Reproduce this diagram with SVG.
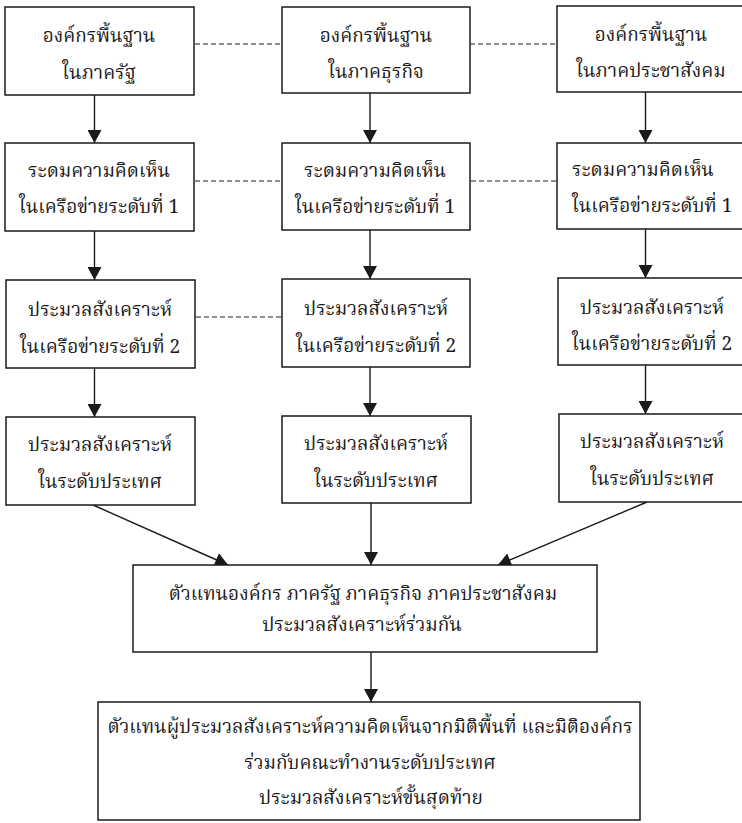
<svg xmlns="http://www.w3.org/2000/svg" width="742" height="823" viewBox="0 0 742 823">
<style>
.box{fill:#fff;stroke:#1a1a1a;stroke-width:1.5}
.t{font-family:"Noto Serif Thai","Noto Sans Thai","Liberation Serif",serif;font-size:19px;fill:#1a1a1a;text-anchor:middle}
.ts{text-anchor:start}
.ln{stroke:#1a1a1a;stroke-width:1.4;fill:none}
.ar{marker-end:url(#ah)}
.dash{stroke:#1a1a1a;stroke-width:1.2;stroke-dasharray:5 3;fill:none}
</style>
<defs>
<marker id="ah" markerUnits="userSpaceOnUse" markerWidth="14" markerHeight="14" viewBox="0 0 12 13" refX="12" refY="6.5" orient="auto">
<path d="M0,0 L12,6.5 L0,13 Z" fill="#1a1a1a"/>
</marker>
</defs>
<rect width="742" height="823" fill="#fff"/>
<g id="connectors">
<path class="dash" d="M195,44 H281"/>
<path class="dash" d="M470,44 H556"/>
<path class="dash" d="M195,181 H281"/>
<path class="dash" d="M471,181 H557"/>
<path class="dash" d="M196,317 H281"/>
<path class="ln ar" d="M94.5,95 V143"/>
<path class="ln ar" d="M94.5,231 V280"/>
<path class="ln ar" d="M94.5,368 V417"/>
<path class="ln ar" d="M370,93 V143"/>
<path class="ln ar" d="M370,230 V279"/>
<path class="ln ar" d="M370,367 V416"/>
<path class="ln ar" d="M371,503 V565"/>
<path class="ln ar" d="M645.5,92 V143"/>
<path class="ln ar" d="M645.5,229 V278"/>
<path class="ln ar" d="M645.5,365 V414"/>
<path class="ln ar" d="M93,505 L228,565"/>
<path class="ln ar" d="M647,502 L498,565"/>
<path class="ln ar" d="M371,652 V702"/>
</g>
<g id="n1"><rect class="box" x="5" y="7" width="189" height="88"/><text class="t" x="99" y="42">องค์กรพื้นฐาน</text><text class="t" x="99" y="79">ในภาครัฐ</text></g>
<g id="n2"><rect class="box" x="282" y="7" width="188" height="86"/><text class="t" x="376" y="42">องค์กรพื้นฐาน</text><text class="t" x="376" y="78">ในภาคธุรกิจ</text></g>
<g id="n3"><rect class="box" x="557" y="6" width="190" height="86"/><text class="t" x="651" y="41">องค์กรพื้นฐาน</text><text class="t" x="651" y="77">ในภาคประชาสังคม</text></g>
<g id="n4"><rect class="box" x="5" y="143" width="189" height="88"/><text class="t" x="99" y="177">ระดมความคิดเห็น</text><text class="t" x="99" y="213">ในเครือข่ายระดับที่ 1</text></g>
<g id="n5"><rect class="box" x="282" y="143" width="188" height="87"/><text class="t" x="375" y="177">ระดมความคิดเห็น</text><text class="t" x="375" y="213">ในเครือข่ายระดับที่ 1</text></g>
<g id="n6"><rect class="box" x="557" y="143" width="190" height="86"/><text class="t ts" x="572" y="176">ระดมความคิดเห็น</text><text class="t ts" x="572" y="212">ในเครือข่ายระดับที่ 1</text></g>
<g id="n7"><rect class="box" x="6" y="280" width="189" height="88"/><text class="t" x="100" y="316">ประมวลสังเคราะห์</text><text class="t" x="100" y="353">ในเครือข่ายระดับที่ 2</text></g>
<g id="n8"><rect class="box" x="282" y="279" width="188" height="88"/><text class="t" x="376" y="315">ประมวลสังเคราะห์</text><text class="t" x="376" y="352">ในเครือข่ายระดับที่ 2</text></g>
<g id="n9"><rect class="box" x="558" y="278" width="190" height="87"/><text class="t" x="652" y="314">ประมวลสังเคราะห์</text><text class="t" x="652" y="350">ในเครือข่ายระดับที่ 2</text></g>
<g id="n10"><rect class="box" x="6" y="417" width="189" height="88"/><text class="t" x="100" y="451">ประมวลสังเคราะห์</text><text class="t" x="100" y="488">ในระดับประเทศ</text></g>
<g id="n11"><rect class="box" x="282" y="416" width="189" height="87"/><text class="t" x="376" y="450">ประมวลสังเคราะห์</text><text class="t" x="376" y="487">ในระดับประเทศ</text></g>
<g id="n12"><rect class="box" x="559" y="414" width="190" height="88"/><text class="t" x="652" y="448">ประมวลสังเคราะห์</text><text class="t" x="652" y="485">ในระดับประเทศ</text></g>
<g id="n13"><rect class="box" x="133" y="565" width="464" height="87"/><text class="t" x="363" y="600">ตัวแทนองค์กร ภาครัฐ ภาคธุรกิจ ภาคประชาสังคม</text><text class="t" x="362" y="631">ประมวลสังเคราะห์ร่วมกัน</text></g>
<g id="n14"><rect class="box" x="98" y="702" width="542" height="118"/><text class="t" x="370" y="733">ตัวแทนผู้ประมวลสังเคราะห์ความคิดเห็นจากมิติพื้นที่ และมิติองค์กร</text><text class="t" x="370" y="769">ร่วมกับคณะทำงานระดับประเทศ</text><text class="t" x="371" y="804">ประมวลสังเคราะห์ขั้นสุดท้าย</text></g>
</svg>
